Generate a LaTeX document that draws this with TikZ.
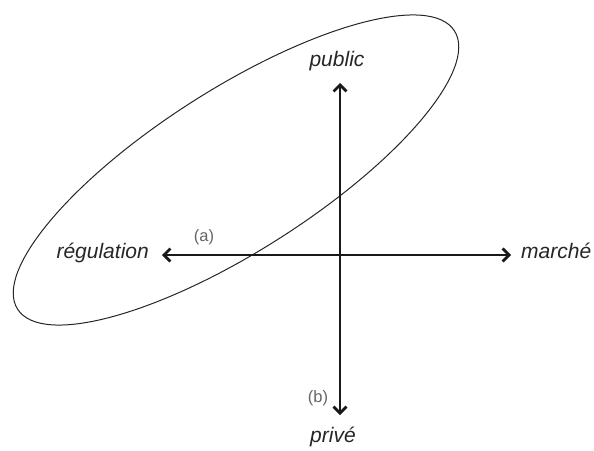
\documentclass[tikz,border=0pt]{standalone}
\usepackage{fontspec}
\setmainfont{Liberation Sans}
\usetikzlibrary{arrows.meta}
\begin{document}
\begin{tikzpicture}[x=1pt,y=-1pt,
  axis/.style={line width=2.8pt,draw=black!90,{Straight Barb[length=6.5pt,width=13pt,line width=2.8pt]}-{Straight Barb[length=6.5pt,width=13pt,line width=2.8pt]}},
  lbl/.style={font=\fontsize{21}{24}\selectfont\itshape,text=black!85,inner sep=0pt},
  small/.style={font=\fontsize{16.5}{18}\selectfont,text=black!60,inner sep=0pt},
  oval/.style={draw=black!85,line width=1pt}]
\useasboundingbox (0,0) rectangle (594,450);
\draw[oval,shift={(236,170)},rotate=32.5] (0,0) ellipse [x radius=259pt,y radius=81pt];
\node[lbl] (public) at (337,61) {public};
\node[lbl] (prive) at (333,437) {privé};
\node[lbl,anchor=east] (regulation) at (149,253) {régulation};
\node[lbl,anchor=west] (marche) at (521,251) {marché};
\node[small] (a) at (204,237) {(a)};
\node[small] (b) at (318,398) {(b)};
\coordinate (ptop) at (340,83);
\coordinate (pbot) at (340,415);
\coordinate (pleft) at (162,255);
\coordinate (pright) at (511,255);
\draw[axis] (ptop) -- (pbot);
\draw[axis] (pleft) -- (pright);
\end{tikzpicture}
\end{document}
